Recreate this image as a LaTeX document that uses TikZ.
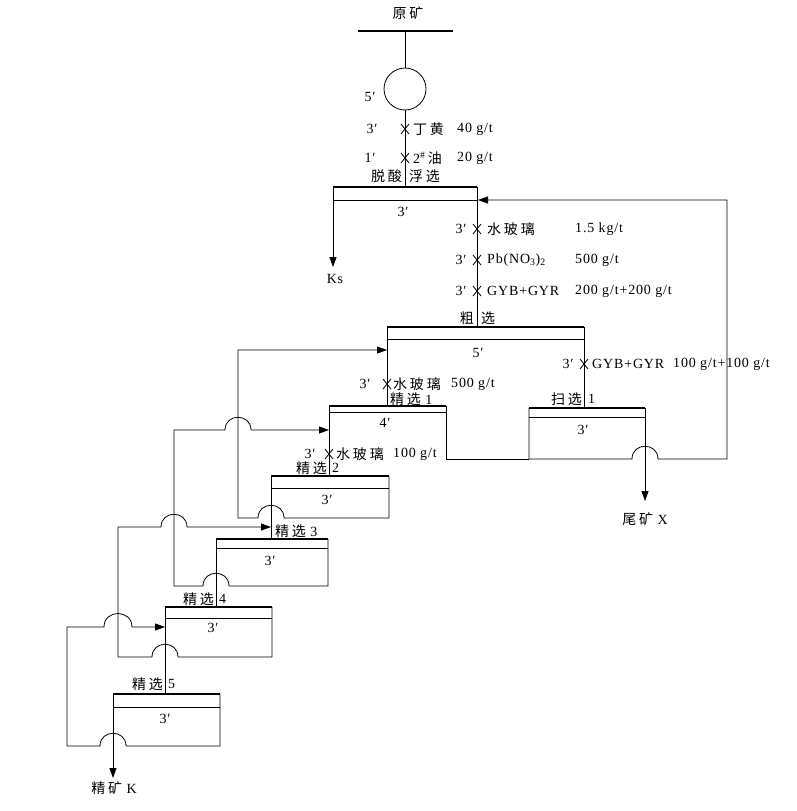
\documentclass[tikz,border=0pt]{standalone}
\usepackage{fontspec}
\setmainfont[LetterSpace=6]{Liberation Serif}
\newfontfamily\cjk[LetterSpace=20]{Noto Sans CJK SC}
\usetikzlibrary{arrows.meta}
\begin{document}
\begin{tikzpicture}[x=1pt,y=-1pt,
  font=\fontsize{14}{16}\selectfont,
  ln/.style={line width=0.8pt},
  topl/.style={line width=2pt},
  arr/.style={line width=0.8pt,-{Triangle[length=10pt,width=7pt]}},
  lbl/.style={inner sep=0pt}]
\useasboundingbox (0,0) rectangle (797,811);
\fill[white] (0,0) rectangle (797,811);

% ---------- feed and conditioning ----------
\coordinate (oreL) at (358,31);
\coordinate (oreR) at (453,31);
\coordinate (ore) at (405,31);
\draw[topl] (oreL) -- (oreR);
\node[circle,draw,line width=0.8pt,minimum size=42pt,inner sep=0pt] (cell) at (405,89) {};
\coordinate (t0in) at (405,187);
\draw[ln] (ore) -- (cell.north);
\draw[ln] (cell.south) -- (t0in);

% ---------- deacidification flotation tank ----------
\coordinate (t0tl) at (333,187); \coordinate (t0tr) at (477,187);
\draw[topl] (t0tl) -- (t0tr);
\draw[ln] (333,200) -- (477,200);
\coordinate (ks) at (333,267);
\draw[arr] (t0tl) -- (ks);

% ---------- rougher ----------
\coordinate (rtl) at (387,327); \coordinate (rtr) at (584,327);
\draw[ln] (t0tr) -- (477,327);
\draw[topl] (rtl) -- (rtr);
\draw[ln] (387,339) -- (584,339);

% ---------- scavenger ----------
\coordinate (stl) at (529,408); \coordinate (str) at (645,408);
\draw[topl] (stl) -- (str);
\draw[ln] (529,417) -- (645,417);
\draw[ln] (rtr) -- (584,408);
\coordinate (tail) at (645,501);
\draw[arr] (str) -- (tail);

% ---------- cleaner 1 ----------
\coordinate (c1tl) at (329,406); \coordinate (c1tr) at (446,406);
\draw[topl] (c1tl) -- (c1tr);
\draw[ln] (329,412) -- (446,412);
\draw[ln] (rtl) -- (387,406);
\draw[ln] (c1tr) -- (446,459) -- (529,459);
\draw[arr] (stl) -- (529,459) -- (632,459) .. controls +(0,-17) and +(0,-17) .. (658,459)
   -- (727,459) -- (727,200) -- (478,200);

% ---------- cleaner 2 ----------
\coordinate (c2tl) at (271,476); \coordinate (c2tr) at (389,476);
\draw[topl] (c2tl) -- (c2tr);
\draw[ln] (271,488) -- (389,488);
\draw[ln] (c1tl) -- (329,476);
\draw[arr] (c2tr) -- (389,518) -- (284,518) .. controls +(0,-17) and +(0,-17) .. (258,518)
   -- (238,518) -- (238,350) -- (387,350);

% ---------- cleaner 3 ----------
\coordinate (c3tl) at (216,539); \coordinate (c3tr) at (328,539);
\draw[topl] (c3tl) -- (c3tr);
\draw[ln] (216,548) -- (328,548);
\draw[ln] (c2tl) -- (271,539);
\draw[arr] (c3tr) -- (328,586) -- (229,586) .. controls +(0,-17) and +(0,-17) .. (203,586)
   -- (174,586) -- (174,430) -- (225,430) .. controls +(0,-17) and +(0,-17) .. (251,430) -- (329,430);

% ---------- cleaner 4 ----------
\coordinate (c4tl) at (165,607); \coordinate (c4tr) at (272,607);
\draw[topl] (c4tl) -- (c4tr);
\draw[ln] (165,618) -- (272,618);
\draw[ln] (c3tl) -- (216,607);
\draw[arr] (c4tr) -- (272,657) -- (178,657) .. controls +(0,-17) and +(0,-17) .. (152,657)
   -- (118,657) -- (118,527) -- (161,527) .. controls +(0,-17) and +(0,-17) .. (187,527) -- (271,527);

% ---------- cleaner 5 ----------
\coordinate (c5tl) at (113,694); \coordinate (c5tr) at (220,694);
\draw[topl] (c5tl) -- (c5tr);
\draw[ln] (113,707) -- (220,707);
\draw[ln] (c4tl) -- (165,694);
\draw[arr] (c5tr) -- (220,746) -- (126,746) .. controls +(0,-17) and +(0,-17) .. (100,746)
   -- (67,746) -- (67,627) -- (104,627) .. controls +(0,-18) and +(0,-18) .. (132,627) -- (165,627);
\coordinate (conc) at (113,778);
\draw[arr] (c5tl) -- (conc);

% ---------- reagent crosses ----------
\foreach \cx/\cy in {405/129,405/158,477/229,477/260,477/291,584/364,387/384,329/454}
  \draw[ln] (\cx-4,\cy-5) -- (\cx+4,\cy+5) (\cx-4,\cy+5) -- (\cx+4,\cy-5);

% ---------- labels ----------
\node[lbl] (tyk) at (408,13) {\cjk 原矿};
\node[lbl] (l5a) at (370,97) {5′};
\node[lbl] (l3a) at (372,129) {3′};
\node[lbl,anchor=west] (dh) at (413,129) {\cjk 丁黄};
\node[lbl,anchor=west] (dhv) at (457,129) {40 g/t};
\node[lbl] (l1a) at (370,158) {1′};
\node[lbl,anchor=west] (oil) at (413,158) {2\textsuperscript{\#}\,{\cjk 油}};
\node[lbl,anchor=west] (oilv) at (457,158) {20 g/t};
\node[lbl,anchor=east] (tsa) at (402,176) {\cjk 脱酸};
\node[lbl,anchor=west] (tsb) at (409,176) {\cjk 浮选};
\node[lbl] (l3t0) at (403,212) {3′};
\node[lbl] (ksl) at (335,279) {Ks};

\node[lbl] (l3b) at (461,229) {3′};
\node[lbl,anchor=west] (sbl) at (487,229) {\cjk 水玻璃};
\node[lbl,anchor=west] (sblv) at (575,229) {1.5 kg/t};
\node[lbl] (l3c) at (461,260) {3′};
\node[lbl,anchor=west] (pb) at (487,260) {Pb(NO\textsubscript{3})\textsubscript{2}};
\node[lbl,anchor=west] (pbv) at (575,260) {500 g/t};
\node[lbl] (l3d) at (461,291) {3′};
\node[lbl,anchor=west] (gy) at (487,291) {GYB+GYR};
\node[lbl,anchor=west] (gyv) at (575,291) {200 g/t+200 g/t};
\node[lbl,anchor=east] (cxa) at (474,318) {\cjk 粗};
\node[lbl,anchor=west] (cxb) at (481,318) {\cjk 选};
\node[lbl] (l5r) at (478,353) {5′};

\node[lbl] (l3e) at (568,364) {3′};
\node[lbl,anchor=west] (gy2) at (592,364) {GYB+GYR};
\node[lbl,anchor=west] (gy2v) at (673,364) {100 g/t+100 g/t};
\node[lbl,anchor=east] (sxa) at (582,399) {\cjk 扫选};
\node[lbl,anchor=west] (sxb) at (588,399) {1};
\node[lbl] (l3s) at (583,430) {3′};
\node[lbl] (tailx) at (645,519) {{\cjk 尾矿} X};

\node[lbl] (l3f) at (365,384) {3′};
\node[lbl,anchor=west] (sb2) at (393,384) {\cjk 水玻璃};
\node[lbl,anchor=west] (sb2v) at (451,384) {500 g/t};
\node[lbl,anchor=west] (jx1) at (390,399) {{\cjk 精选} 1};
\node[lbl] (l4) at (385,423) {4′};

\node[lbl] (l3g) at (310,454) {3′};
\node[lbl,anchor=west] (sb3) at (336,454) {\cjk 水玻璃};
\node[lbl,anchor=west] (sb3v) at (393,454) {100 g/t};
\node[lbl,anchor=east] (jx2a) at (327,468) {\cjk 精选};
\node[lbl,anchor=west] (jx2b) at (332,468) {2};
\node[lbl] (l3c2) at (327,500) {3′};

\node[lbl,anchor=west] (jx3) at (275,531) {{\cjk 精选} 3};
\node[lbl] (l3c3) at (270,561) {3′};

\node[lbl,anchor=east] (jx4a) at (214,599) {\cjk 精选};
\node[lbl,anchor=west] (jx4b) at (219,599) {4};
\node[lbl] (l3c4) at (213,628) {3′};

\node[lbl,anchor=east] (jx5a) at (163,684) {\cjk 精选};
\node[lbl,anchor=west] (jx5b) at (168,684) {5};
\node[lbl] (l3c5) at (165,719) {3′};
\node[lbl] (concl) at (114,788) {{\cjk 精矿} K};
\end{tikzpicture}
\end{document}
